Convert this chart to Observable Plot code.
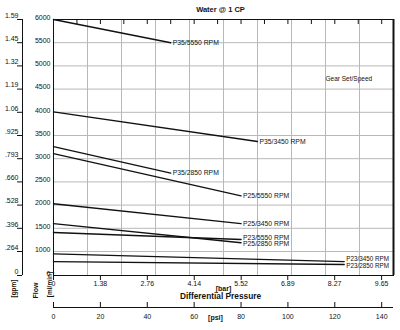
<!DOCTYPE html>
<html>
<head>
<meta charset="utf-8">
<script src="https://cdn.jsdelivr.net/npm/d3@7"></script>
<script src="https://cdn.jsdelivr.net/npm/@observablehq/plot@0.6"></script>
<style>
  html, body { margin: 0; padding: 0; background: #fff; }
  svg { display: block; font-family: "Liberation Sans", Arial, Helvetica, sans-serif; }
</style>
</head>
<body>
<div id="chart"></div>
<script>
// ---- data ----
const seriesNames = ["P35/5550 RPM", "P35/3450 RPM", "P35/2850 RPM", "P25/5550 RPM", "P25/3450 RPM",
                     "P25/2850 RPM", "P23/5550 RPM", "P23/3450 RPM", "P23/2850 RPM"];
const flowAtZero  = [6000, 4010, 3260, 3110, 2030, 1600, 1410, 900, 580];   // ml/min at 0 psi
const flowAtEnd   = [5500, 3370, 2690, 2200, 1600, 1190, 1260, 580, 460];   // ml/min at end pressure
const endPsi      = [50, 87, 50, 80, 80, 80, 80, 124, 124];                 // psi

const mlTicks     = [6000, 5500, 5000, 4500, 4000, 3500, 3000, 2500, 2000, 1500, 1000, 0];
const gpmLabels   = ["1.59", "1.45", "1.32", "1.19", "1.06", ".925", ".793", ".660", ".528", ".396", ".264", "0"];
const barLabels   = ["0", "1.38", "2.76", "4.14", "5.52", "6.89", "8.27", "9.65"];
const psiLabels   = [0, 20, 40, 60, 80, 100, 120, 140];
const psiTopTicks = [10, 20, 30, 40, 50, 60, 70, 80, 90, 100, 110, 120, 130, 140];
const barGrid     = [1, 2, 3, 4, 5, 6, 7, 8, 9];
const mlGrid      = [5500, 5000, 4500, 4000, 3500, 3000, 2500, 2000, 1500, 1000];

const PSI_PER_BAR = 14.5038;

// The reference axis spaces 1000..6000 evenly but squeezes 0..1000 into one grid cell.
const LOW_SQUEEZE = 24 / 46.4;
const flowT = v => (v >= 1000 ? v : 1000 - (1000 - v) * LOW_SQUEEZE);

// ---- derived tables ----
const points = seriesNames.flatMap((name, i) => [
  {name, bar: 0, flow: flowAtZero[i]},
  {name, bar: endPsi[i] / PSI_PER_BAR, flow: flowAtEnd[i]}
]);
const ends = seriesNames.map((name, i) => ({name, bar: endPsi[i] / PSI_PER_BAR, flow: flowAtEnd[i]}));
const labelNudge = {"P23/5550 RPM": -2, "P25/2850 RPM": 1, "P23/3450 RPM": -3, "P23/2850 RPM": 2};
const gpmRows = gpmLabels.map((g, i) => ({g, ml: mlTicks[i]}));

const ink = "#111";
const grid = "#b8b8b8";

const rotated = {rotate: -90, textAnchor: "middle", lineAnchor: "middle", fontWeight: "bold", fill: ink};

const chart = Plot.plot({
  width: 400,
  height: 330,
  marginLeft: 53,
  marginRight: 7,
  marginTop: 19,
  marginBottom: 55,
  style: {background: "#fff", fontFamily: "'Liberation Sans', Arial, Helvetica, sans-serif", color: ink},
  x: {domain: [0, 10], range: [53, 393], axis: null},
  y: {type: "linear", transform: flowT, domain: [flowT(0), 6000], range: [275, 19], axis: null},
  marks: [
    // grid
    Plot.ruleX(barGrid, {x: d => d, stroke: grid, strokeWidth: 1}),
    Plot.ruleY(mlGrid, {y: d => d, stroke: grid, strokeWidth: 1}),
    // frame
    Plot.frame({stroke: ink, strokeWidth: 1}),
    Plot.ruleX([10], {x: d => d, stroke: ink, strokeWidth: 2}),
    // top ticks (every 10 psi)
    Plot.ruleX(psiTopTicks, {x: d => d / PSI_PER_BAR, insetBottom: 251, stroke: ink, strokeWidth: 1}),
    // bottom bar ticks
    Plot.ruleX(barLabels, {x: d => +d, insetTop: 256, insetBottom: -5, stroke: ink, strokeWidth: 1}),
    // data lines
    Plot.line(points, {x: "bar", y: "flow", z: "name", stroke: ink, strokeWidth: 1.4}),
    Plot.text(ends, {x: "bar", y: "flow", text: "name", textAnchor: "start", dx: 2,
      fontSize: d => (d.name.startsWith("P23/") && d.name !== "P23/5550 RPM" ? 6.3 : 6.8), fill: ink}),
    // left ml/min labels
    Plot.text(mlTicks, {y: d => d, text: d => String(d), frameAnchor: "left", textAnchor: "end",
      dx: -3, dy: -2, fontSize: 7, fill: ink}),
    // gpm axis
    Plot.ruleX([0], {x: d => d, dx: -31, stroke: ink, strokeWidth: 1}),
    Plot.ruleY(mlTicks, {y: d => d, insetLeft: -36, insetRight: 371, stroke: ink, strokeWidth: 1}),
    Plot.text(gpmRows, {y: "ml", text: "g", frameAnchor: "left", textAnchor: "end",
      dx: -35, dy: -4, fontSize: 7, fill: ink}),
    // bar labels
    Plot.text(barLabels, {x: d => +d, text: d => d, frameAnchor: "bottom", dy: 10, fontSize: 7, fill: ink}),
    Plot.text(["[bar]"], {frameAnchor: "bottom", dy: 15, dx: 0, fontSize: 7, fontWeight: "bold", fill: ink}),
    Plot.text(["Differential Pressure"], {frameAnchor: "bottom", dy: 23, dx: -3, fontSize: 8.3, fontWeight: "bold", fill: ink}),
    // psi axis
    Plot.ruleY([0], {y: d => d, dy: 32, stroke: ink, strokeWidth: 1}),
    Plot.ruleX(psiLabels, {x: d => d / PSI_PER_BAR, insetTop: 283, insetBottom: -33, stroke: ink, strokeWidth: 1}),
    Plot.text(psiLabels, {x: d => d / PSI_PER_BAR, text: d => String(d), frameAnchor: "bottom", dy: 43, fontSize: 7, fill: ink}),
    Plot.text(["[psi]"], {frameAnchor: "bottom", dy: 44, dx: -8, fontSize: 7, fontWeight: "bold", fill: ink}),
    // titles
    Plot.text(["Water @ 1 CP"], {frameAnchor: "top", dy: -13, dx: -3, fontSize: 7.5, fontWeight: "bold", fill: ink}),
    Plot.text(["Gear Set/Speed"], {frameAnchor: "top-left", dx: 272, dy: 57, fontSize: 6.5, fill: ink}),
    Plot.text(["[ml/min]"], {frameAnchor: "bottom-left", dx: -4, dy: 9, fontSize: 6.5, ...rotated}),
    Plot.text(["Flow"], {frameAnchor: "bottom-left", dx: -18, dy: 15, fontSize: 7, ...rotated}),
    Plot.text(["[gpm]"], {frameAnchor: "bottom-left", dx: -40, dy: 13, fontSize: 6.5, ...rotated})
  ]
});

// label nudges for crowded end labels
d3.select(chart).selectAll("text").each(function () {
  const t = this.textContent;
  if (t in labelNudge) {
    const tr = this.getAttribute("transform") || "";
    this.setAttribute("transform", tr + ` translate(0,${labelNudge[t]})`);
  }
});

document.getElementById("chart").appendChild(chart);
</script>
</body>
</html>
